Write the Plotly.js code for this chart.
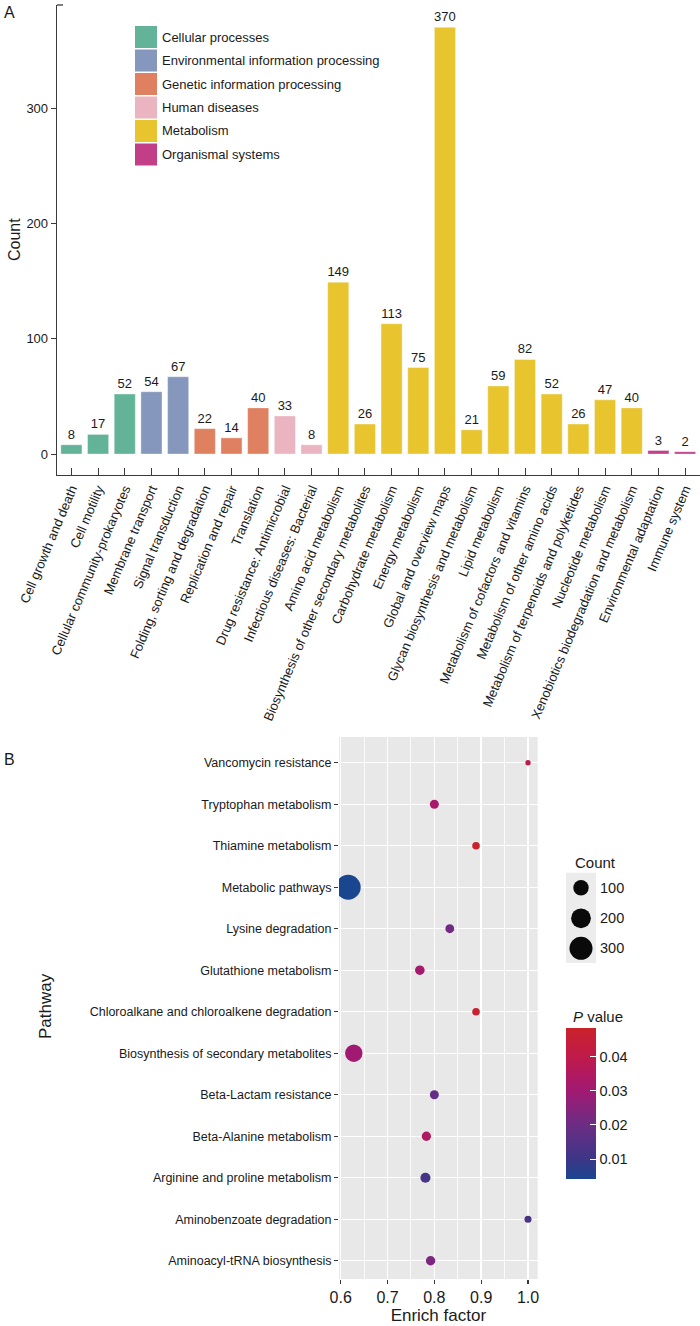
<!DOCTYPE html>
<html>
<head>
<meta charset="utf-8">
<script src="https://cdn.plot.ly/plotly-3.0.1.min.js"></script>
<style>
  html, body { margin: 0; padding: 0; background: #fff; }
  #chart { width: 700px; height: 1326px; }
</style>
</head>
<body>
<div id="chart"></div>
<script>
// ---------- Panel A data ----------
const barCategories = [
  "Cell growth and death", "Cell motility", "Cellular community-prokaryotes",
  "Membrane transport", "Signal transduction",
  "Folding, sorting and degradation", "Replication and repair", "Translation",
  "Drug resistance: Antimicrobial", "Infectious diseases: Bacterial",
  "Amino acid metabolism", "Biosynthesis of other secondary metabolites",
  "Carbohydrate metabolism", "Energy metabolism", "Global and overview maps",
  "Glycan biosynthesis and metabolism", "Lipid metabolism",
  "Metabolism of cofactors and vitamins", "Metabolism of other amino acids",
  "Metabolism of terpenoids and polyketides", "Nucleotide metabolism",
  "Xenobiotics biodegradation and metabolism",
  "Environmental adaptation", "Immune system"
];
const barCounts = [8, 17, 52, 54, 67, 22, 14, 40, 33, 8, 149, 26, 113, 75, 370, 21, 59, 82, 52, 26, 47, 40, 3, 2];
const barGroups = [
  "Cellular processes", "Cellular processes", "Cellular processes",
  "Environmental information processing", "Environmental information processing",
  "Genetic information processing", "Genetic information processing", "Genetic information processing",
  "Human diseases", "Human diseases",
  "Metabolism", "Metabolism", "Metabolism", "Metabolism", "Metabolism", "Metabolism",
  "Metabolism", "Metabolism", "Metabolism", "Metabolism", "Metabolism", "Metabolism",
  "Organismal systems", "Organismal systems"
];
const groupNames = ["Cellular processes", "Environmental information processing",
  "Genetic information processing", "Human diseases", "Metabolism", "Organismal systems"];
const groupColors = ["#62b398", "#8597bc", "#df8160", "#eab4c1", "#e8c52f", "#c23f88"];
const countTicks = [0, 100, 200, 300];

// ---------- Panel B data (top to bottom) ----------
const pathways = [
  "Vancomycin resistance", "Tryptophan metabolism", "Thiamine metabolism",
  "Metabolic pathways", "Lysine degradation", "Glutathione metabolism",
  "Chloroalkane and chloroalkene degradation", "Biosynthesis of secondary metabolites",
  "Beta-Lactam resistance", "Beta-Alanine metabolism", "Arginine and proline metabolism",
  "Aminobenzoate degradation", "Aminoacyl-tRNA biosynthesis"
];
const enrichFactor = [1.0, 0.80, 0.889, 0.616, 0.833, 0.769, 0.889, 0.628, 0.80, 0.783, 0.781, 1.0, 0.792];
const pathCounts = [3, 16, 8, 370, 15, 20, 8, 140, 16, 18, 25, 6, 19];
const pValues = [0.040, 0.032, 0.0483, 0.0041, 0.021, 0.031, 0.047, 0.030, 0.018, 0.034, 0.012, 0.013, 0.023];
const enrichTicks = [0.6, 0.7, 0.8, 0.9, 1.0];
const enrichTickText = ["0.6", "0.7", "0.8", "0.9", "1.0"];
const sizeLegendCounts = [100, 200, 300];
const pTicks = [0.01, 0.02, 0.03, 0.04];
const pTickText = ["0.01", "0.02", "0.03", "0.04"];

// ---------- helpers ----------
const W = 700, H = 1326;
const px = v => v / W;
const py = v => 1 - v / H;
const FONT = "Liberation Sans, Arial, Helvetica, sans-serif";
const INK = "#1a1a1a";
const AX = "#3a3a3a";

// ggplot-like area scale for point size
const cMin = Math.min(...pathCounts), cMax = Math.max(...pathCounts);
const sizeScale = c => 5.3 + 19.7 * Math.sqrt(Math.max(0, (c - cMin) / (cMax - cMin)));

const barColors = barGroups.map(g => groupColors[groupNames.indexOf(g)]);
const pMin = Math.min(...pValues), pMax = Math.max(...pValues);

const pColorscale = [
  [0.0, "#1a4690"], [0.134, "#3d3687"], [0.36, "#6c2d84"],
  [0.586, "#a21972"], [0.812, "#c01a4a"], [1.0, "#c9222b"]
];

// colorbar geometry (px)
const CB_LEFT = 566, CB_W = 30, CB_TOP = 1028.3, CB_H = 151;

// size legend geometry (px)
const SL_TOP = 872.7, SL_BOT = 963, SL_ROWS = [887.7, 918.3, 948.3];

const traces = [
  {
    type: "bar",
    x: barCategories,
    y: barCounts,
    xaxis: "x", yaxis: "y",
    marker: { color: barColors, line: { width: 0.6, color: "rgba(255,255,255,0.6)" } },
    text: barCounts.map(String),
    textposition: "outside",
    textfont: { family: FONT, size: 13, color: INK },
    constraintext: "none",
    cliponaxis: false,
    hoverinfo: "x+y",
    showlegend: false
  },
  {
    type: "scatter",
    mode: "markers",
    x: enrichFactor,
    y: pathways,
    xaxis: "x2", yaxis: "y2",
    marker: {
      size: pathCounts.map(sizeScale),
      color: pValues,
      colorscale: pColorscale,
      cmin: pMin,
      cmax: pMax,
      line: { width: 0 },
      opacity: 1,
      showscale: true,
      colorbar: {
        x: px(CB_LEFT), xanchor: "left", xpad: 0,
        y: py(CB_TOP + CB_H / 2), yanchor: "middle", ypad: 0,
        thickness: CB_W, thicknessmode: "pixels",
        len: CB_H, lenmode: "pixels",
        outlinewidth: 0,
        tickvals: pTicks, ticktext: pTickText,
        ticks: "inside", ticklen: 6, tickcolor: "#ffffff", tickwidth: 1,
        tickfont: { family: FONT, size: 14.5, color: INK }
      }
    },
    showlegend: false
  },
  {
    type: "scatter",
    mode: "markers",
    x: sizeLegendCounts.map(() => 0.5),
    y: SL_ROWS.map(r => (SL_BOT - r) / (SL_BOT - SL_TOP)),
    xaxis: "x3", yaxis: "y3",
    marker: { size: sizeLegendCounts.map(sizeScale), color: "#0a0a0a", opacity: 1, line: { width: 0 } },
    hoverinfo: "skip",
    showlegend: false
  }
];

const annotations = [
  { text: "A", x: px(2), y: py(13), xref: "paper", yref: "paper", xanchor: "left", yanchor: "middle",
    showarrow: false, font: { family: FONT, size: 16, color: INK } },
  { text: "B", x: px(2), y: py(759), xref: "paper", yref: "paper", xanchor: "left", yanchor: "middle",
    showarrow: false, font: { family: FONT, size: 16, color: INK } },
  { text: "Count", x: px(14), y: py(240), xref: "paper", yref: "paper", textangle: -90,
    xanchor: "center", yanchor: "middle", showarrow: false, font: { family: FONT, size: 16, color: INK } },
  { text: "Pathway", x: px(45), y: py(1006), xref: "paper", yref: "paper", textangle: -90,
    xanchor: "center", yanchor: "middle", showarrow: false, font: { family: FONT, size: 17, color: INK } },
  { text: "Count", x: px(573), y: py(862), xref: "paper", yref: "paper", xanchor: "left", yanchor: "middle",
    showarrow: false, font: { family: FONT, size: 15, color: INK } },
  { text: "<i>P</i> value", x: px(571), y: py(1016), xref: "paper", yref: "paper", xanchor: "left", yanchor: "middle",
    showarrow: false, font: { family: FONT, size: 15, color: INK } }
];

// size legend labels
sizeLegendCounts.forEach((c, i) => {
  annotations.push({
    text: String(c), x: px(598), y: py(SL_ROWS[i]), xref: "paper", yref: "paper",
    xanchor: "left", yanchor: "middle", showarrow: false,
    font: { family: FONT, size: 14.5, color: INK }
  });
});

const shapes = [
  // gray panel background for B
  { type: "rect", xref: "x2 domain", yref: "y2 domain", x0: 0, x1: 1, y0: 0, y1: 1,
    fillcolor: "#e8e8e8", line: { width: 0 }, layer: "below" },
  // size legend key background
  { type: "rect", xref: "paper", yref: "paper", x0: px(566), x1: px(596), y0: py(SL_BOT), y1: py(SL_TOP),
    fillcolor: "#ececec", line: { width: 0 }, layer: "below" },
  // y-axis top cap of panel A
  { type: "line", xref: "paper", yref: "paper", x0: px(57), x1: px(63), y0: py(5), y1: py(5),
    line: { color: AX, width: 1.3 } }
];

// left-side white colorbar ticks (ggplot style)
pTicks.forEach(v => {
  const yy = CB_TOP + CB_H - (v - pMin) / (pMax - pMin) * CB_H;
  shapes.push({ type: "line", xref: "paper", yref: "paper",
    x0: px(CB_LEFT), x1: px(CB_LEFT + 6), y0: py(yy), y1: py(yy),
    line: { color: "#ffffff", width: 1 }, layer: "above" });
});

// legend for panel A
groupNames.forEach((g, i) => {
  const top = 26 + i * 23.5;
  shapes.push({ type: "rect", xref: "paper", yref: "paper",
    x0: px(135), x1: px(157), y0: py(top + 22), y1: py(top),
    fillcolor: groupColors[i], line: { width: 0 } });
  annotations.push({ text: g, x: px(160), y: py(top + 11), xref: "paper", yref: "paper",
    xanchor: "left", yanchor: "middle", showarrow: false,
    font: { family: FONT, size: 13, color: INK } });
});

const layout = {
  width: W, height: H,
  margin: { l: 0, r: 0, t: 0, b: 0, pad: 0 },
  paper_bgcolor: "#ffffff",
  plot_bgcolor: "rgba(0,0,0,0)",
  font: { family: FONT, color: INK },
  showlegend: false,
  bargap: 0.21,
  xaxis: {
    domain: [px(57), px(699.5)],
    anchor: "y",
    type: "category",
    categoryorder: "array", categoryarray: barCategories,
    range: [-0.54, barCategories.length - 0.46],
    showline: true, linecolor: AX, linewidth: 1.3,
    ticks: "inside", ticklen: 7, tickcolor: AX, tickwidth: 1,
    tickangle: -67,
    tickfont: { family: FONT, size: 13, color: INK },
    showgrid: false, zeroline: false, fixedrange: true
  },
  yaxis: {
    domain: [py(475), py(5)],
    anchor: "x",
    range: [-18.2, 389.4],
    showline: true, linecolor: AX, linewidth: 1.3,
    ticks: "outside", ticklen: 5, tickcolor: AX, tickwidth: 1,
    tickvals: countTicks,
    tickfont: { family: FONT, size: 13, color: INK },
    showgrid: false, zeroline: false, fixedrange: true
  },
  xaxis2: {
    domain: [px(339), px(537.7)],
    anchor: "y2",
    range: [0.5964, 1.0207],
    tickvals: enrichTicks, ticktext: enrichTickText,
    ticks: "outside", ticklen: 4, tickcolor: AX, tickwidth: 1.2,
    tickfont: { family: FONT, size: 16, color: INK },
    showgrid: true, gridcolor: "#ffffff", gridwidth: 1.4,
    minor: { dtick: 0.05, tick0: 0.55, showgrid: true, gridcolor: "#ffffff", gridwidth: 0.8, ticks: "" },
    showline: false, zeroline: false,
    title: { text: "Enrich factor", font: { family: FONT, size: 17, color: INK }, standoff: 2 },
    fixedrange: true
  },
  yaxis2: {
    domain: [py(1279), py(737)],
    anchor: "x2",
    type: "category",
    categoryorder: "array", categoryarray: pathways.slice().reverse(),
    range: [-0.44, pathways.length - 0.38],
    ticks: "outside", ticklen: 4, tickcolor: AX, tickwidth: 1.2,
    tickfont: { family: FONT, size: 12.5, color: INK },
    showgrid: true, gridcolor: "#ffffff", gridwidth: 1.4,
    showline: false, zeroline: false, fixedrange: true
  },
  xaxis3: {
    domain: [px(566), px(596)], anchor: "y3", range: [0, 1],
    visible: false, fixedrange: true
  },
  yaxis3: {
    domain: [py(SL_BOT), py(SL_TOP)], anchor: "x3", range: [0, 1],
    visible: false, fixedrange: true
  },
  shapes: shapes,
  annotations: annotations
};

Plotly.newPlot("chart", traces, layout, { displayModeBar: false, staticPlot: true });
</script>
</body>
</html>
